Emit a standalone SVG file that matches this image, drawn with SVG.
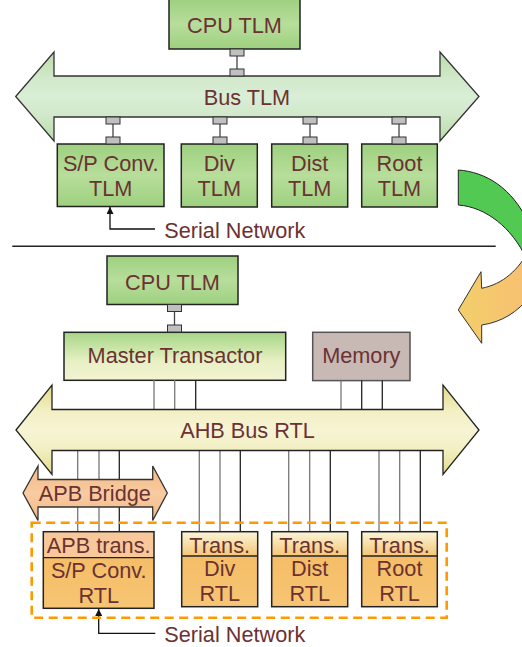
<svg xmlns="http://www.w3.org/2000/svg" width="522" height="647" viewBox="0 0 522 647">
  <defs>
    <style>
      .t { font-family: "Liberation Sans", Arial, sans-serif; font-size: 21.7px; fill: #6b3232; text-anchor: middle; }
      .ts { font-family: "Liberation Sans", Arial, sans-serif; font-size: 21.7px; fill: #6b3232; }
      .box { stroke: #222; stroke-width: 1.5; }
      .port { fill: #c0c0c0; stroke: #333; stroke-width: 1; }
      .pl { stroke: #444; stroke-width: 1.3; fill: none; }
      .wg { stroke: #777; stroke-width: 1.3; }
      .wb { stroke: #222; stroke-width: 1.3; }
      .bus { stroke: #333; stroke-width: 1.3; }
      .arr { stroke: #111; stroke-width: 1.3; fill: none; }
    </style>
    <linearGradient id="gGreen" x1="0" y1="0" x2="0" y2="1">
      <stop offset="0" stop-color="#9ed07f"/>
      <stop offset="0.5" stop-color="#b7de9b"/>
      <stop offset="1" stop-color="#9ed07f"/>
    </linearGradient>
    <linearGradient id="gMaster" x1="0" y1="0" x2="0" y2="1">
      <stop offset="0" stop-color="#a5d686"/>
      <stop offset="0.6" stop-color="#e8f0c4"/>
      <stop offset="1" stop-color="#f3f3d3"/>
    </linearGradient>
    <linearGradient id="gBusTLM" gradientUnits="userSpaceOnUse" x1="0" y1="52" x2="0" y2="141">
      <stop offset="0" stop-color="#b9dcaa"/>
      <stop offset="0.3" stop-color="#d2e9cb"/>
      <stop offset="0.5" stop-color="#d9eed6"/>
      <stop offset="0.7" stop-color="#d2e9cb"/>
      <stop offset="1" stop-color="#b9dcaa"/>
    </linearGradient>
    <linearGradient id="gAHB" gradientUnits="userSpaceOnUse" x1="0" y1="385" x2="0" y2="475">
      <stop offset="0" stop-color="#e1dc8a"/>
      <stop offset="0.3" stop-color="#f3f0c6"/>
      <stop offset="0.5" stop-color="#f6f4d3"/>
      <stop offset="0.7" stop-color="#f3f0c6"/>
      <stop offset="1" stop-color="#e1dc8a"/>
    </linearGradient>
    <linearGradient id="gAPB" gradientUnits="userSpaceOnUse" x1="0" y1="466" x2="0" y2="521">
      <stop offset="0" stop-color="#f2b985"/>
      <stop offset="0.5" stop-color="#f9cba0"/>
      <stop offset="1" stop-color="#f2b985"/>
    </linearGradient>
    <linearGradient id="gTrans" x1="0" y1="0" x2="0" y2="1">
      <stop offset="0" stop-color="#fbf5d8"/>
      <stop offset="1" stop-color="#f4c676"/>
    </linearGradient>
    <linearGradient id="gRTL" x1="0" y1="0" x2="0" y2="1">
      <stop offset="0" stop-color="#f5bd67"/>
      <stop offset="1" stop-color="#f7c574"/>
    </linearGradient>
    <linearGradient id="gOrange" x1="0" y1="0" x2="1" y2="0">
      <stop offset="0" stop-color="#f3cf6a"/>
      <stop offset="1" stop-color="#f7bf72"/>
    </linearGradient>
    <marker id="ah" viewBox="0 0 10 10" refX="10" refY="5" markerWidth="7" markerHeight="7" markerUnits="userSpaceOnUse" orient="auto">
      <path d="M0,0 L10,5 L0,10 Z" fill="#111"/>
    </marker>
  </defs>

  <!-- Upper (TLM) section -->
  <g id="bus-tlm">
    <path d="M15.7,96.5 L54,52 L54,76 L440,76 L440,52 L479,96.5 L440,141 L440,117 L54,117 L54,141 Z" fill="url(#gBusTLM)" stroke="#333" stroke-width="1.3"/>
    <text class="t" x="247" y="105">Bus TLM</text>
  </g>

  <g id="cpu-tlm-top">
    <rect class="box" x="169" y="-1" width="131" height="50" fill="url(#gGreen)"/>
    <text class="t" x="234.5" y="33">CPU TLM</text>
  </g>

  <g id="sp-conv-tlm">
    <rect class="box" x="57.3" y="144" width="106.7" height="62.5" fill="url(#gGreen)"/>
    <text class="t" x="110.7" y="171">S/P Conv.</text>
    <text class="t" x="110.7" y="196">TLM</text>
  </g>
  <g id="div-tlm">
    <rect class="box" x="181.3" y="144" width="76" height="63" fill="url(#gGreen)"/>
    <text class="t" x="219.3" y="171">Div</text>
    <text class="t" x="219.3" y="196">TLM</text>
  </g>
  <g id="dist-tlm">
    <rect class="box" x="271.7" y="144" width="76" height="63" fill="url(#gGreen)"/>
    <text class="t" x="309.7" y="171">Dist</text>
    <text class="t" x="309.7" y="196">TLM</text>
  </g>
  <g id="root-tlm">
    <rect class="box" x="361.7" y="144" width="75.6" height="63" fill="url(#gGreen)"/>
    <text class="t" x="399.5" y="171">Root</text>
    <text class="t" x="399.5" y="196">TLM</text>
  </g>

  <g id="serial-network-top">
    <text class="ts" x="164.3" y="238">Serial Network</text>
  </g>

  <!-- Lower (RTL) section -->
  <g id="cpu-tlm-bottom">
    <rect class="box" x="107" y="256" width="131" height="48.5" fill="url(#gGreen)"/>
    <text class="t" x="172.5" y="290">CPU TLM</text>
  </g>

  <g id="master-transactor">
    <rect class="box" x="64" y="332.3" width="221.7" height="48" fill="url(#gMaster)"/>
    <text class="t" x="175" y="363.3">Master Transactor</text>
  </g>

  <g id="memory">
    <rect x="312.7" y="332.3" width="97.3" height="48.3" fill="#c8b9b5" stroke="#555" stroke-width="1.5"/>
    <text class="t" x="361.3" y="363.3">Memory</text>
  </g>

  <g id="connectors">
    <!-- port connectors, TLM -->
    <line class="pl" x1="237" y1="56" x2="237" y2="69"/>
    <rect class="port" x="230" y="49" width="14" height="7"/>
    <rect class="port" x="230" y="69" width="14" height="7"/>

    <line class="pl" x1="113" y1="124" x2="113" y2="137"/>
    <rect class="port" x="106" y="117" width="14" height="7"/>
    <rect class="port" x="106" y="137" width="14" height="7"/>
    <line class="pl" x1="220" y1="124" x2="220" y2="137"/>
    <rect class="port" x="213" y="117" width="14" height="7"/>
    <rect class="port" x="213" y="137" width="14" height="7"/>
    <line class="pl" x1="310" y1="124" x2="310" y2="137"/>
    <rect class="port" x="303" y="117" width="14" height="7"/>
    <rect class="port" x="303" y="137" width="14" height="7"/>
    <line class="pl" x1="399" y1="124" x2="399" y2="137"/>
    <rect class="port" x="392" y="117" width="14" height="7"/>
    <rect class="port" x="392" y="137" width="14" height="7"/>

    <polyline class="arr" points="155,229 110,229 110,207" marker-end="url(#ah)"/>

    <line x1="12.3" y1="246.3" x2="495.7" y2="246.3" stroke="#222" stroke-width="1.6"/>

    <line class="pl" x1="174.5" y1="311.5" x2="174.5" y2="325"/>
    <rect class="port" x="167.5" y="304.5" width="14" height="7"/>
    <rect class="port" x="167.5" y="325" width="14" height="7"/>

    <!-- Master/Memory to AHB -->
    <line class="wg" x1="154" y1="380" x2="154" y2="410"/>
    <line class="wg" x1="174.7" y1="380" x2="174.7" y2="410"/>
    <line class="wb" x1="195.7" y1="380" x2="195.7" y2="410"/>
    <line class="wg" x1="341" y1="380.5" x2="341" y2="410"/>
    <line class="wb" x1="361.7" y1="380.5" x2="361.7" y2="410"/>
    <line class="wb" x1="382.3" y1="380.5" x2="382.3" y2="410"/>

    <!-- AHB to slaves -->
    <line class="wg" x1="77.7" y1="450" x2="77.7" y2="532"/>
    <line class="wg" x1="99" y1="450" x2="99" y2="532"/>
    <line class="wb" x1="119.3" y1="450" x2="119.3" y2="532"/>
    <line class="wg" x1="199.3" y1="451" x2="199.3" y2="532"/>
    <line class="wg" x1="220" y1="451" x2="220" y2="532"/>
    <line class="wb" x1="240.3" y1="451" x2="240.3" y2="532"/>
    <line class="wg" x1="288.7" y1="451" x2="288.7" y2="532"/>
    <line class="wg" x1="309.7" y1="451" x2="309.7" y2="532"/>
    <line class="wb" x1="330.3" y1="451" x2="330.3" y2="532"/>
    <line class="wg" x1="379" y1="451" x2="379" y2="532"/>
    <line class="wg" x1="399.7" y1="451" x2="399.7" y2="532"/>
    <line class="wb" x1="420.3" y1="451" x2="420.3" y2="532"/>

    <polyline class="arr" points="155.3,633.3 98.7,633.3 98.7,609" marker-end="url(#ah)"/>
  </g>

  <g id="ahb-bus-rtl">
    <path d="M16,430 L52,385 L52,409.5 L443,409.5 L443,385 L479,430 L443,474.5 L443,450.5 L52,450.5 L52,474.5 Z" fill="url(#gAHB)" stroke="#222" stroke-width="1.3"/>
    <text class="t" x="247.5" y="437.7">AHB Bus RTL</text>
  </g>

  <g id="apb-bridge">
    <path d="M23,493 L38,466 L38,479.5 L152.7,479.5 L152.7,466 L167.3,493 L152.7,520.5 L152.7,507 L38,507 L38,520.5 Z" fill="url(#gAPB)" stroke="#333" stroke-width="1.3"/>
    <text class="t" x="94.8" y="501">APB Bridge</text>
  </g>

  <g id="rtl-group">
    <rect x="31.7" y="522.7" width="415" height="95" fill="none" stroke="#ff9900" stroke-width="2.6" stroke-dasharray="9 5.5"/>
  </g>

  <g id="sp-conv-rtl">
    <rect x="43.3" y="531.7" width="110.7" height="26" fill="#f8c89b"/>
    <rect x="43.3" y="557.7" width="110.7" height="50.6" fill="url(#gRTL)"/>
    <rect class="box" x="43.3" y="531.7" width="110.7" height="76.6" fill="none"/>
    <line x1="43.3" y1="557.7" x2="154" y2="557.7" stroke="#222" stroke-width="1.3"/>
    <text class="t" x="98.7" y="553.3">APB trans.</text>
    <text class="t" x="98.7" y="578.3">S/P Conv.</text>
    <text class="t" x="98.7" y="603.3">RTL</text>
  </g>

  <g id="div-rtl">
    <rect x="181.7" y="531.7" width="76" height="24.3" fill="url(#gTrans)"/>
    <rect x="181.7" y="556" width="76" height="50.7" fill="url(#gRTL)"/>
    <rect class="box" x="181.7" y="531.7" width="76" height="75" fill="none"/>
    <line x1="181.7" y1="556" x2="257.7" y2="556" stroke="#222" stroke-width="1.3"/>
    <text class="t" x="219.7" y="552.7">Trans.</text>
    <text class="t" x="219.7" y="576">Div</text>
    <text class="t" x="219.7" y="601">RTL</text>
  </g>

  <g id="dist-rtl">
    <rect x="271.7" y="531.7" width="76" height="24.3" fill="url(#gTrans)"/>
    <rect x="271.7" y="556" width="76" height="50.7" fill="url(#gRTL)"/>
    <rect class="box" x="271.7" y="531.7" width="76" height="75" fill="none"/>
    <line x1="271.7" y1="556" x2="347.7" y2="556" stroke="#222" stroke-width="1.3"/>
    <text class="t" x="309.7" y="552.7">Trans.</text>
    <text class="t" x="309.7" y="576">Dist</text>
    <text class="t" x="309.7" y="601">RTL</text>
  </g>

  <g id="root-rtl">
    <rect x="361.7" y="531.7" width="75.6" height="24.3" fill="url(#gTrans)"/>
    <rect x="361.7" y="556" width="75.6" height="50.7" fill="url(#gRTL)"/>
    <rect class="box" x="361.7" y="531.7" width="75.6" height="75" fill="none"/>
    <line x1="361.7" y1="556" x2="437.3" y2="556" stroke="#222" stroke-width="1.3"/>
    <text class="t" x="399.5" y="552.7">Trans.</text>
    <text class="t" x="399.5" y="576">Root</text>
    <text class="t" x="399.5" y="601">RTL</text>
  </g>

  <g id="serial-network-bottom">
    <text class="ts" x="164.3" y="641.5">Serial Network</text>
  </g>

  <!-- Refinement curved arrow -->
  <g id="refine-arrow">
    <path d="M458.3,170 C486,172 512,188 528,222 L526,258 C512,228 486,207 458.3,205 Z" fill="#52c952" stroke="#222" stroke-width="1"/>
    <path d="M530,248 C519,270 503,284 481.7,288.3 L481,271.7 L458.3,310 L481.7,343.3 L481.7,325 C502,322 518,312 530,296 Z" fill="url(#gOrange)" stroke="#333" stroke-width="1"/>
  </g>
</svg>
